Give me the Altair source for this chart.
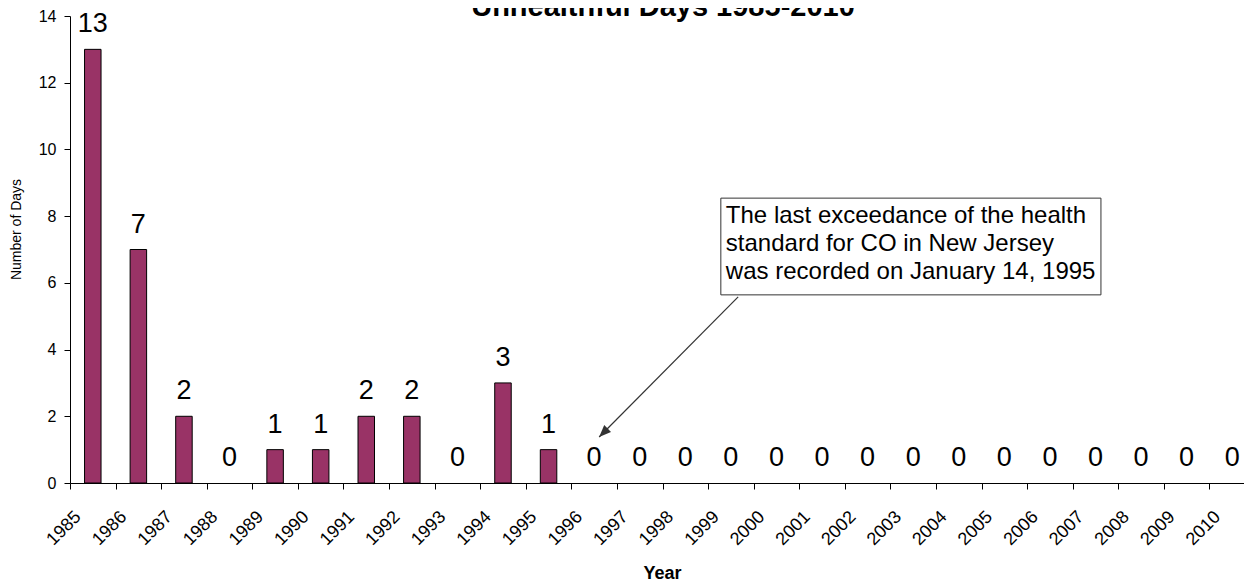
import altair as alt
import pandas as pd

# ---- data -------------------------------------------------------------
YEARS = [1985, 1986, 1987, 1988, 1989, 1990, 1991, 1992, 1993, 1994, 1995,
         1996, 1997, 1998, 1999, 2000, 2001, 2002, 2003, 2004, 2005, 2006,
         2007, 2008, 2009, 2010]
DAYS = [13, 7, 2, 0, 1, 1, 2, 2, 0, 3, 1,
        0, 0, 0, 0, 0, 0, 0, 0, 0, 0, 0,
        0, 0, 0, 0]
Y_TICKS = [0, 2, 4, 6, 8, 10, 12, 14]

TITLE = "Unhealthful Days 1985-2010"
X_TITLE = "Year"
Y_TITLE = "Number of Days"

NOTE_LINES = ["The last exceedance of the health",
              "standard for CO in New Jersey",
              "was recorded on January 14, 1995"]
NOTE_LINE_Y = [7.79, 6.955, 6.116]
NOTE_X = [1999.39, 1999.39, 1999.39]
NOTE_BOX_X = [1999.28, 2007.62]
NOTE_BOX_Y = [5.64, 8.54]
ARROW_FROM = [1999.66, 5.58]
ARROW_TO = [1996.61, 1.38]

X_DOMAIN = [1985, 2011]
Y_DOMAIN = [0, 14]

BAR_COLOR = "#993366"
FONT = "Liberation Sans"

# ---- tables -----------------------------------------------------------
bars_df = pd.DataFrame({"year": YEARS, "days": DAYS})
box_df = pd.DataFrame({"bx1": [NOTE_BOX_X[0]], "bx2": [NOTE_BOX_X[1]],
                       "by1": [NOTE_BOX_Y[0]], "by2": [NOTE_BOX_Y[1]]})
note_df = pd.DataFrame({"nx": NOTE_X, "ny": NOTE_LINE_Y, "line": NOTE_LINES})
arrow_df = pd.DataFrame({"ax1": [ARROW_FROM[0]], "ay1": [ARROW_FROM[1]],
                         "ax2": [ARROW_TO[0]], "ay2": [ARROW_TO[1]]})
head_df = pd.DataFrame({"hx": [ARROW_TO[0]], "hy": [ARROW_TO[1]]})
title_df = pd.DataFrame({"t": [TITLE]})

xs = alt.Scale(domain=X_DOMAIN, nice=False, zero=False, padding=0)
ys = alt.Scale(domain=Y_DOMAIN, nice=False, zero=True, padding=0)

x_axis = alt.Axis(values=YEARS, format="d", labelAngle=-45, labelAlign="right",
                  labelBaseline="top", labelPadding=18.6, labelOffset=1.5,
                  labelFontSize=18, labelColor="black", labelFlush=False,
                  labelOverlap=False, tickSize=6, tickColor="black",
                  domainColor="black", grid=False, title=X_TITLE,
                  titleFontSize=18, titleFontWeight="bold", titleColor="black",
                  titleX=592, titleY=95, titleAlign="center",
                  titleBaseline="alphabetic")
y_axis = alt.Axis(values=Y_TICKS, labelFontSize=16, labelColor="black",
                  labelPadding=8, tickSize=6, tickColor="black",
                  domainColor="black", grid=False, title=Y_TITLE,
                  titleFontSize=14, titleFontWeight="normal",
                  titleColor="black", titleAngle=270, titleX=-53.5,
                  titleY=213, titleAlign="center", titleBaseline="middle")

bars = (alt.Chart(bars_df)
        .transform_filter("datum.days > 0")
        .transform_calculate(mid="datum.year + 0.5")
        .mark_bar(size=16.5, color=BAR_COLOR, stroke="black", strokeWidth=1)
        .encode(x=alt.X("mid:Q", scale=xs, axis=x_axis),
                y=alt.Y("days:Q", scale=ys, axis=y_axis)))

labels = (alt.Chart(bars_df)
          .transform_calculate(mid="datum.year + 0.5")
          .mark_text(fontSize=27, baseline="alphabetic", dy=-17, color="black")
          .encode(x=alt.X("mid:Q", scale=xs),
                  y=alt.Y("days:Q", scale=ys),
                  text="days:Q"))

box = (alt.Chart(box_df)
       .mark_rect(fill="white", stroke="#333333", strokeWidth=1)
       .encode(x=alt.X("bx1:Q", scale=xs), x2="bx2",
               y=alt.Y("by1:Q", scale=ys), y2="by2"))

note = (alt.Chart(note_df)
        .mark_text(align="left", baseline="alphabetic", fontSize=24,
                   color="black")
        .encode(x=alt.X("nx:Q", scale=xs), y=alt.Y("ny:Q", scale=ys),
                text="line:N"))

arrow = (alt.Chart(arrow_df)
         .mark_rule(color="#333333", strokeWidth=1.2)
         .encode(x=alt.X("ax1:Q", scale=xs), y=alt.Y("ay1:Q", scale=ys),
                 x2="ax2", y2="ay2"))

head = (alt.Chart(head_df)
        .mark_point(shape="M0,0L-0.4,1L0.4,1Z", angle=225, size=576,
                    filled=True, color="#333333", opacity=1)
        .encode(x=alt.X("hx:Q", scale=xs), y=alt.Y("hy:Q", scale=ys)))

title = (alt.Chart(title_df)
         .mark_text(fontSize=29, fontWeight="bold", baseline="alphabetic",
                    align="center", color="black")
         .encode(x=alt.value(593), y=alt.value(-0.5), text="t:N"))

chart = (alt.layer(bars, labels, box, note, arrow, head, title)
         .properties(width=1185, height=467,
                     autosize=alt.AutoSizeParams(type="none"),
                     padding={"left": 62, "top": 8, "right": -11, "bottom": 101})
         .configure(font=FONT)
         .configure_view(stroke=None))

chart.save("out.html", embed_options={"renderer": "svg", "actions": False})
